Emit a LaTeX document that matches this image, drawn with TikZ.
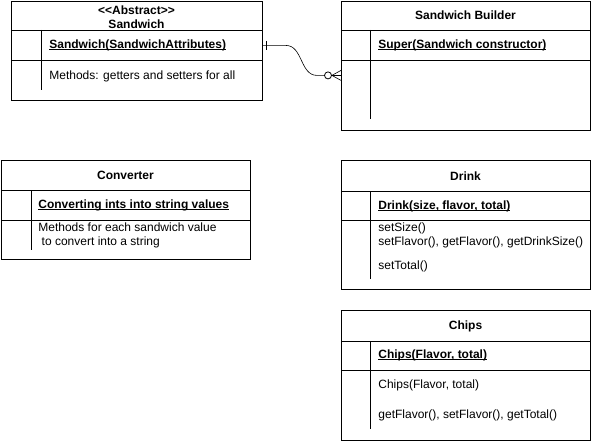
\documentclass[tikz,border=0pt]{standalone}
\usepackage{fontspec}
\setmainfont{Liberation Sans}
\usetikzlibrary{positioning}
\tikzset{
  classbox/.style={draw,rectangle,anchor=north west,inner sep=0pt},
  classname/.style={font=\fontsize{12}{14}\selectfont\bfseries,align=center,inner sep=0pt},
  member/.style={anchor=west,font=\fontsize{12}{14}\selectfont,align=left,inner sep=0pt},
  ctor/.style={member,font=\fontsize{12}{14}\selectfont\bfseries},
  zero/.style={draw,circle,fill=white,minimum size=7pt,inner sep=0pt}
}
\newcommand{\ctorline}[1]{\underline{\smash{#1}}\vphantom{#1}}
\begin{document}
\begin{tikzpicture}[x=1pt,y=-1pt,line width=0.8pt]
  \useasboundingbox (0,0) rectangle (591,441);
  % Sandwich
  \node[classbox,minimum width=251pt,minimum height=99pt] (sandwich) at (11,1) {};
  \draw (11,30) -- (262,30) (11,60) -- (262,60) (41,30) -- (41,90);
  \node[classname] (sandwichname) at (136.5,17.5) {{<}{<}Abstract{>}{>}\\Sandwich};
  \node[ctor] (sandwichctor) at (49,45) {\ctorline{Sandwich(SandwichAttributes)}};
  \node[member] (sandwichmeth) at (49,76) {Methods: getters and setters for all};
  % Sandwich Builder
  \node[classbox,minimum width=249pt,minimum height=129pt] (builder) at (341,1) {};
  \draw (341,30) -- (590,30) (341,60) -- (590,60) (370,30) -- (370,119);
  \node[classname] (buildername) at (465.5,15.5) {Sandwich Builder};
  \node[ctor] (builderctor) at (378,45) {\ctorline{Super(Sandwich constructor)}};
  % Converter
  \node[classbox,minimum width=249pt,minimum height=99pt] (converter) at (1,160) {};
  \draw (1,190) -- (250,190) (1,220) -- (250,220) (31,190) -- (31,250);
  \node[classname] (convertername) at (125.5,175) {Converter};
  \node[ctor] (converterctor) at (38,205) {\ctorline{Converting ints into string values}};
  \node[member] (convertermeth) at (38,235.5) {Methods for each sandwich value\\\ to convert into a string};
  % Drink
  \node[classbox,minimum width=249pt,minimum height=129pt] (drink) at (341,160) {};
  \draw (341,191) -- (590,191) (341,220) -- (590,220) (370,191) -- (370,279);
  \node[classname] (drinkname) at (465.5,176) {Drink};
  \node[ctor] (drinkctor) at (378,206) {\ctorline{Drink(size, flavor, total)}};
  \node[member] (drinkmeth) at (378,235) {setSize()\\setFlavor(), getFlavor(), getDrinkSize()};
  \node[member] (drinktotal) at (378,266) {setTotal()};
  % Chips
  \node[classbox,minimum width=249pt,minimum height=130pt] (chips) at (341,310) {};
  \draw (341,341) -- (590,341) (341,370) -- (590,370) (370,341) -- (370,429);
  \node[classname] (chipsname) at (465.5,326) {Chips};
  \node[ctor] (chipsctor) at (378,355) {\ctorline{Chips(Flavor, total)}};
  \node[member] (chipsnew) at (378,385) {Chips(Flavor, total)};
  \node[member] (chipsmeth) at (378,415) {getFlavor(), setFlavor(), getTotal()};
  % link: one sandwich -- zero or many builders
  \coordinate (sw) at ([yshift=5.5pt]sandwich.east);
  \coordinate (bw) at ([yshift=-9.5pt]builder.west);
  \node[zero] (zc) at ([xshift=-13pt]bw) {};
  \draw[line width=0.6pt] (sw) -- ++(23,0) .. controls +(17,0) and +(-17,0) .. ([xshift=-24pt]bw) -- (zc.west);
  \draw[line width=0.6pt] ([xshift=3pt]sw) ++(0,-4.5) -- ++(0,9);
  \foreach \s in {-5,0,5}
    \draw[line width=0.6pt] (zc.east) -- ([yshift=\s pt]bw);
\end{tikzpicture}
\end{document}
